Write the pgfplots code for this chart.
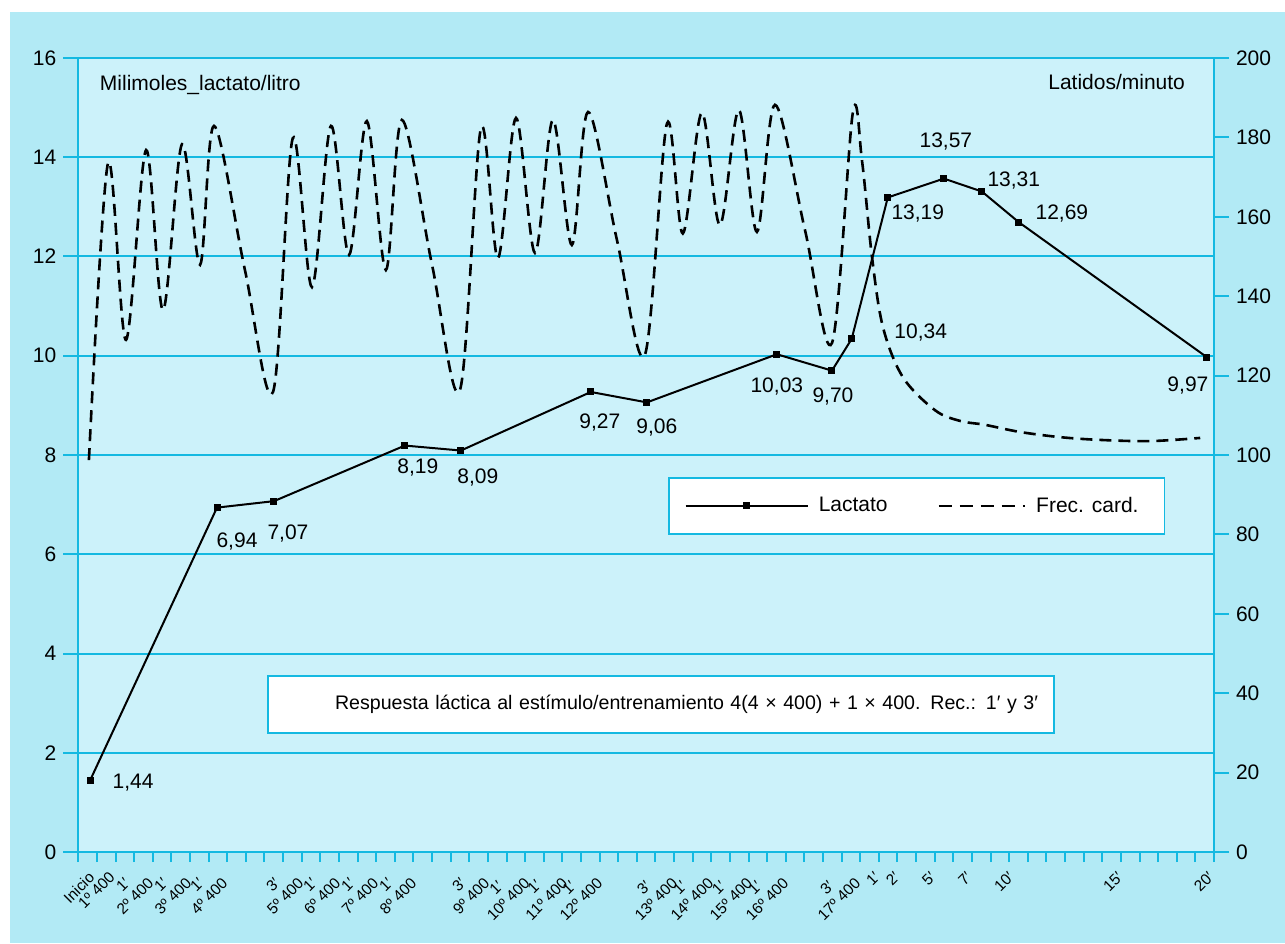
\documentclass[border=0pt]{standalone}
\usepackage{pgfplots}
\pgfplotsset{compat=1.18}
\usepackage{fontspec}
\setmainfont{Liberation Sans}
\definecolor{bgout}{RGB}{178,234,245}
\definecolor{bgin}{RGB}{204,242,250}
\definecolor{cyl}{RGB}{20,185,225}
\pgfplotsset{/pgf/number format/assume math mode=true}
\begin{document}
\begin{tikzpicture}
\path[use as bounding box, fill=white] (-39.15pt,-45.5pt) rectangle (603.35pt,426pt);
\fill[bgout] (-34.15pt,-45.5pt) rectangle (603.35pt,420pt);
\begin{axis}[
  at={(0pt,0pt)}, anchor=south west, scale only axis,
  width=567.85pt, height=397pt,
  xmin=0, xmax=61, ymin=0, ymax=16,
  axis background/.style={fill=bgin},
  axis line style={cyl, line width=1.1pt},
  ytick={0,2,...,16}, ytick pos=left,
  ymajorgrids, grid style={cyl, line width=1pt},
  tick align=outside, major tick length=7.5pt,
  y tick style={cyl, line width=1pt},
  yticklabel style={font=\fontsize{10.5}{12}\selectfont, black},
  xtick pos=bottom,
  xtick={0.4,1.5,3.25,5.29,7.23,11.31,13.3,15.34,17.38,21.3,23.46,25.49,27.37,31.39,33.33,35.42,37.36,41.22,42.58,43.65,45.59,47.53,49.79,55.64,60.52},
  xticklabels={{Inicio},{1º 400},{1′\\2º 400},{1′\\3º 400},{1′\\4º 400},{3′\\5º 400},{1′\\6º 400},{1′\\7º 400},{1′\\8º 400},{3′\\9º 400},{1′\\10º 400},{1′\\11º 400},{1′\\12º 400},{3′\\13º 400},{1′\\14º 400},{1′\\15º 400},{1′\\16º 400},{3′\\17º 400},{1′},{2′},{5′},{7′},{10′},{15′},{20′}},
  major x tick style={draw=none},
  minor xtick={0,1,...,61},
  minor x tick style={cyl, line width=1pt},
  minor tick length=5pt,
  xticklabel style={rotate=45, anchor=east, align=center, font=\fontsize{7.7}{8.6}\selectfont, inner sep=0.5pt, yshift=-4.8pt},
  clip=false,
  legend columns=2,
  legend style={at={(0.5192,0.4723)}, anchor=north west, draw=cyl, line width=0.8pt, fill=white,
    inner xsep=8pt, inner ysep=7.5pt, font=\fontsize{10.5}{12}\selectfont,
    nodes={inner xsep=5pt},
    /tikz/every even column/.append style={column sep=20pt}},
]
\addplot[black, line width=1pt, mark=square*, mark size=1.25pt,
  legend image code/.code={\draw[black, line width=1pt, mark=square*, mark size=1.25pt, mark indices={2}] plot coordinates {(0pt,0pt) (30.5pt,0pt) (61pt,0pt)};}]
 coordinates {
 (0.63,1.44) (7.45,6.94) (10.51,7.07) (17.54,8.19) (20.55,8.09)
 (27.53,9.27) (30.54,9.06) (37.52,10.03) (40.48,9.70) (41.54,10.34)
 (43.48,13.19) (46.49,13.57) (48.53,13.31) (50.52,12.69) (60.62,9.97)};
\addlegendentry{Lactato}
\addlegendimage{black, line width=1.3pt, dash pattern=on 6.5pt off 4pt,
  legend image code/.code={\draw[black, line width=1.3pt, dash pattern=on 6.5pt off 4pt] (0pt,0pt) -- (37.5pt,0pt); \path (0pt,0pt) -- (43pt,0pt);}}
\addlegendentry{Frec. card.}
\begin{scope}[font=\fontsize{10.5}{12}\selectfont]
\node at (axis cs:0.63,1.44)  [xshift=21.5pt, yshift=-1pt] {1,44};
\node at (axis cs:7.45,6.94)  [xshift=10pt, yshift=-17pt] {6,94};
\node at (axis cs:10.51,7.07) [xshift=7pt, yshift=-16pt] {7,07};
\node at (axis cs:17.54,8.19) [xshift=6.5pt, yshift=-11pt] {8,19};
\node at (axis cs:20.55,8.09) [xshift=8.5pt, yshift=-13.5pt] {8,09};
\node at (axis cs:27.53,9.27) [xshift=4.5pt, yshift=-15.5pt] {9,27};
\node at (axis cs:30.54,9.06) [xshift=5pt, yshift=-12.5pt] {9,06};
\node at (axis cs:37.52,10.03) [xshift=0pt, yshift=-16pt] {10,03};
\node at (axis cs:40.48,9.70) [xshift=0.5pt, yshift=-13pt] {9,70};
\node at (axis cs:41.54,10.34) [xshift=34.5pt, yshift=3pt] {10,34};
\node at (axis cs:43.48,13.19) [xshift=15pt, yshift=-8pt] {13,19};
\node at (axis cs:46.49,13.57) [xshift=1pt, yshift=18.5pt] {13,57};
\node at (axis cs:48.53,13.31) [xshift=16pt, yshift=5.5pt] {13,31};
\node at (axis cs:50.52,12.69) [xshift=21.5pt, yshift=4.5pt] {12,69};
\node at (axis cs:60.62,9.97) [xshift=-9.5pt, yshift=-14pt] {9,97};
\node[anchor=west] at (rel axis cs:0,1) [xshift=7.3pt, yshift=-13.5pt] {Milimoles\_lactato/litro};
\node[anchor=east] at (rel axis cs:1,1) [xshift=-11pt, yshift=-12pt] {Latidos/minuto};
\end{scope}
\node[draw=cyl, line width=0.8pt, fill=white, minimum width=393pt, minimum height=28.5pt,
  text width=377pt, align=right, inner xsep=8pt, font=\fontsize{9.8}{12}\selectfont]
  at (rel axis cs:0.5131,0.1858) {Respuesta láctica al estímulo/entrenamiento 4(4 × 400) + 1 × 400. Rec.: 1′ y 3′};
\end{axis}
\begin{axis}[
  at={(0pt,0pt)}, anchor=south west, scale only axis,
  width=567.85pt, height=397pt,
  xmin=0, xmax=61, ymin=0, ymax=200,
  hide x axis,
  axis y line*=right,
  y axis line style={cyl, line width=1.1pt},
  ytick={0,20,...,200},
  tick align=outside, major tick length=7.5pt,
  y tick style={cyl, line width=1pt},
  yticklabel style={font=\fontsize{10.5}{12}\selectfont, black},
]
\addplot[black, line width=1.3pt, dash pattern=on 6pt off 3.5pt, smooth, tension=0.55] coordinates {
(0.57,98.7) (1.60,173.6) (2.56,129.0) (3.64,176.8) (4.55,136.5) (5.57,178.3)
(6.54,147.9) (7.29,182.9) (8.95,146.6) (10.46,115.9) (11.52,179.8) (12.55,142.3)
(13.57,182.9) (14.54,150.4) (15.50,184.1) (16.52,146.6) (17.38,184.4) (19.0,147.9)
(20.50,116.4) (21.63,182.4) (22.54,149.6) (23.51,184.9) (24.53,150.9) (25.49,184.4)
(26.51,152.9) (27.38,186.4) (28.93,154.2) (30.43,125.2) (31.62,183.5) (32.47,155.8)
(33.49,186.2) (34.46,157.9) (35.48,186.9) (36.45,156.2) (37.42,188.2) (39.03,156.7)
(40.48,128.2) (41.60,186.2) (42.09,174.3) (42.63,149.9) (43.22,132.2) (44.29,119.6)
(46.01,111.3) (47.35,108.6) (48.70,107.6) (50.58,105.8) (52.73,104.5) (54.88,103.8)
(57.57,103.5) (60.26,104.3)};
\end{axis}
\end{tikzpicture}
\end{document}
